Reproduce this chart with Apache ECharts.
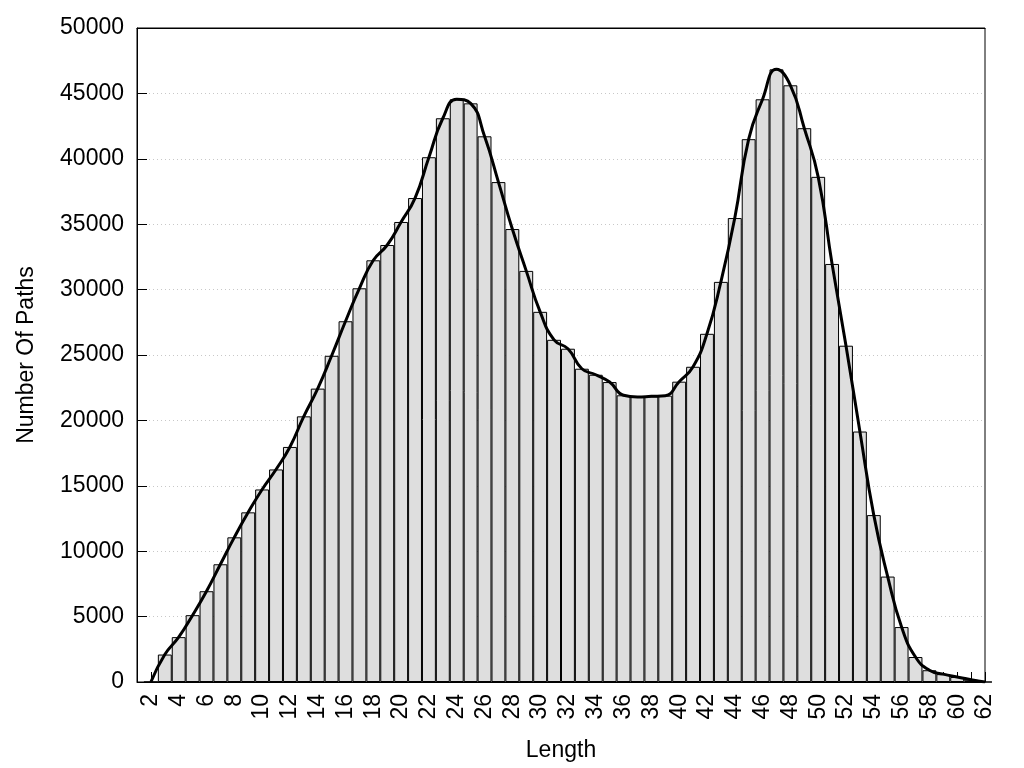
<!DOCTYPE html>
<html>
<head>
<meta charset="utf-8">
<script src="https://cdn.jsdelivr.net/npm/echarts@6/dist/echarts.min.js"></script>
<style>
html,body{margin:0;padding:0;background:#fff;}
#chart{width:1024px;height:768px;}
</style>
</head>
<body>
<div id="chart"></div>
<script>
// Path length categories (1 is an empty slot at the left edge of the plot)
var lengths = [1,2,3,4,5,6,7,8,9,10,11,12,13,14,15,16,17,18,19,20,21,22,23,24,25,26,27,28,29,30,31,32,33,34,35,36,37,38,39,40,41,42,43,44,45,46,47,48,49,50,51,52,53,54,55,56,57,58,59,60,61,62];
// Number of paths per length
var pathCounts = [null,0,2100,3430,5110,6940,9000,11060,12970,14720,16250,17970,20310,22430,24940,27580,30100,32240,33410,35170,37000,40120,43100,44550,44240,41720,38220,34630,31430,28300,26160,25480,23950,23490,22930,21920,21790,21840,21890,22960,24100,26620,30590,35470,41500,44550,46840,45620,42340,38620,31960,25710,19150,12760,8060,4200,1910,900,600,380,170,0];
var yTicks = {min: 0, max: 50000, interval: 5000};

var chart = echarts.init(document.getElementById('chart'), null, {renderer: 'canvas'});
var font = 'Liberation Sans, Arial, sans-serif';
var fs = 23;
chart.setOption({
  animation: false,
  backgroundColor: '#fff',
  grid: {left: 137, right: 39, top: 28, bottom: 86, show: true, borderColor: '#000', borderWidth: 1, backgroundColor: 'transparent'},
  xAxis: [{
    type: 'category',
    data: lengths.map(String),
    boundaryGap: false,
    name: 'Length',
    nameLocation: 'middle',
    nameGap: 57,
    nameTextStyle: {fontFamily: font, fontSize: fs, color: '#000'},
    axisLine: {show: true, lineStyle: {color: '#000', width: 1}},
    axisTick: {show: true, inside: true, length: 10, interval: 0, lineStyle: {color: '#000'}},
    axisLabel: {
      interval: function (i, v) { return Number(v) % 2 === 0; },
      rotate: 90, margin: 12,
      fontFamily: font, fontSize: fs, color: '#000'
    },
    splitLine: {show: false}
  }, {
    type: 'category',
    position: 'top',
    data: lengths.map(String),
    boundaryGap: false,
    axisLine: {show: true, onZero: false, lineStyle: {color: '#000', width: 1}},
    axisTick: {show: false},
    axisLabel: {show: false},
    splitLine: {show: false},
    z: 5
  }],
  yAxis: {
    type: 'value',
    min: yTicks.min, max: yTicks.max, interval: yTicks.interval,
    name: 'Number Of Paths',
    nameLocation: 'middle',
    nameGap: 99,
    nameTextStyle: {fontFamily: font, fontSize: fs, color: '#000'},
    axisLine: {show: true, lineStyle: {color: '#000', width: 1}},
    axisTick: {show: true, inside: true, length: 10, lineStyle: {color: '#000'}},
    axisLabel: {margin: 13, fontFamily: font, fontSize: fs, color: '#000', formatter: function (v) { return String(v); }},
    splitLine: {show: true, lineStyle: {color: '#c8c8c8', width: 1, type: [1, 3]}}
  },
  series: [
    {
      type: 'bar',
      data: pathCounts,
      barCategoryGap: '0%',
      barWidth: '100%',
      itemStyle: {color: '#dedede', borderColor: '#000', borderWidth: 1},
      z: 2
    },
    {
      type: 'line',
      data: pathCounts,
      smooth: 0.5,
      showSymbol: false,
      symbol: 'none',
      lineStyle: {color: '#000', width: 3},
      z: 3
    }
  ]
});
</script>
</body>
</html>
